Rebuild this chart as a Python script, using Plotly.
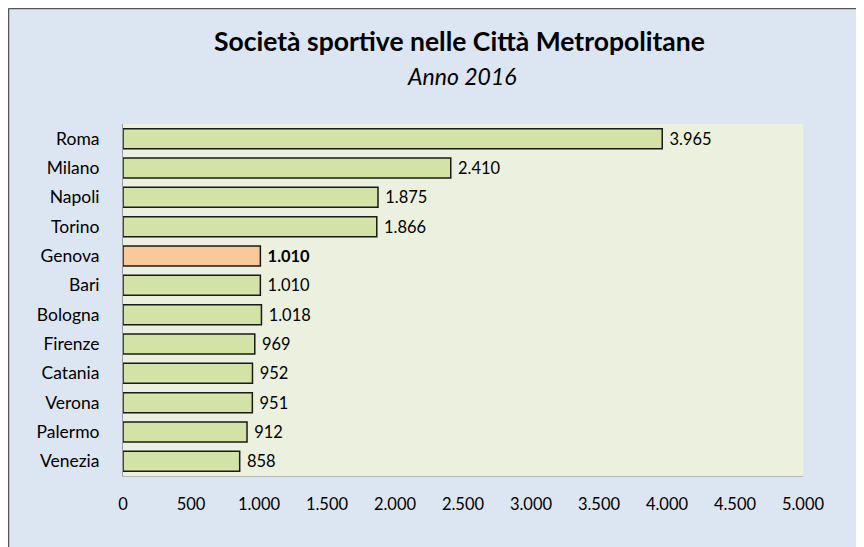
import plotly.graph_objects as go

cities = ["Roma", "Milano", "Napoli", "Torino", "Genova", "Bari", "Bologna",
          "Firenze", "Catania", "Verona", "Palermo", "Venezia"]
values = [3965, 2410, 1875, 1866, 1010, 1010, 1018, 969, 952, 951, 912, 858]
highlight = "Genova"
x_ticks = [0, 500, 1000, 1500, 2000, 2500, 3000, 3500, 4000, 4500, 5000]
x_tick_labels = ["0", "500", "1.000", "1.500", "2.000", "2.500", "3.000",
                 "3.500", "4.000", "4.500", "5.000"]

def fmt(v):
    return f"{v:,}".replace(",", ".")

colors = ["#fac999" if c == highlight else "#d3e3a8" for c in cities]
pad = "\u00a0"
labels = [pad + (f"<b>{fmt(v)}</b>" if c == highlight else fmt(v))
          for c, v in zip(cities, values)]

# page has an 8px body offset; compensate
OFF = 8
W, H = 864, 547
L, T = 123 - OFF, 124 - OFF
pw, ph = 680, 352
R = W - L - pw
B = H - T - ph

fig = go.Figure(go.Bar(
    x=values, y=cities, orientation="h",
    marker=dict(color=colors, line=dict(color="#1a1a1a", width=1.5)),
    width=0.68,
    text=labels, textposition="outside", cliponaxis=False,
    textfont=dict(size=16.5, color="#000000", family="Lato"),
    hoverinfo="skip",
))

fig.update_layout(
    width=W, height=H,
    margin=dict(l=L, r=R, t=T, b=B, autoexpand=False),
    paper_bgcolor="#dce6f2",
    plot_bgcolor="#ebf0df",
    font=dict(family="Lato", size=16, color="#000000"),
    showlegend=False,
    xaxis=dict(range=[0, 5000], tickvals=x_ticks, ticktext=x_tick_labels,
               showgrid=False, zeroline=False, showline=True,
               linecolor="#b8b8b8", linewidth=1,
               ticklabelstandoff=13, tickfont=dict(size=16.5)),
    yaxis=dict(autorange="reversed", showgrid=False, zeroline=False,
               showline=True, linecolor="#9a9a9a", linewidth=1,
               ticklabelstandoff=19, tickfont=dict(size=17.5)),
)

def px(x):
    return (x - OFF - L) / pw
def py(y):
    return (T + ph - (y - OFF)) / ph

fig.add_annotation(text="<b>Società sportive nelle Città Metropolitane</b>",
                   xref="paper", yref="paper", x=px(459.5), y=py(41),
                   showarrow=False, font=dict(size=26.5, family="Lato"),
                   xanchor="center", yanchor="middle")
fig.add_annotation(text="<i>Anno 2016</i>",
                   xref="paper", yref="paper", x=px(461.5), y=py(75.5),
                   showarrow=False, font=dict(size=23, family="Lato"),
                   xanchor="center", yanchor="middle")

# outer chart border (left and top edges visible)
bx = (0.5 - L) / pw
by = (T + ph - 0.5) / ph
fig.add_shape(type="line", xref="paper", yref="paper", x0=bx, x1=bx,
              y0=-(B + 10) / ph, y1=by, line=dict(color="#555555", width=1.5))
fig.add_shape(type="line", xref="paper", yref="paper", x0=bx, x1=(W + 10 - L) / pw,
              y0=by, y1=by, line=dict(color="#555555", width=1.5))

fig.write_html("out.html")
